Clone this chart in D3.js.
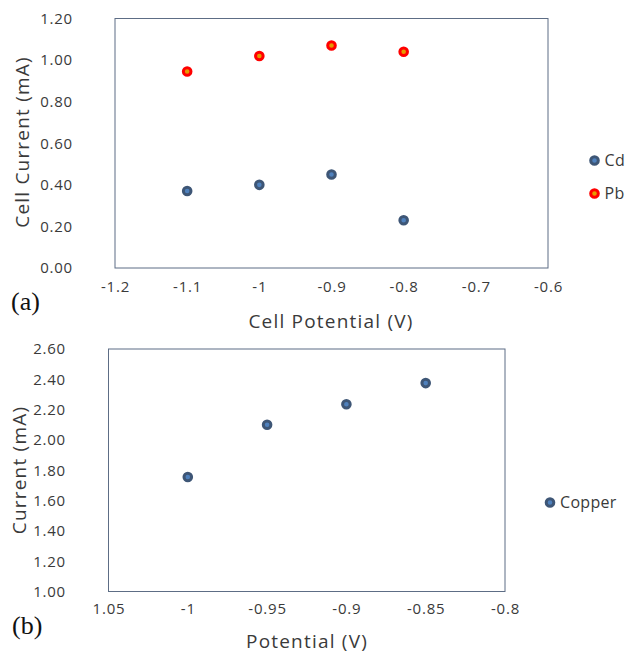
<!DOCTYPE html>
<html>
<head>
<meta charset="utf-8">
<script src="https://cdn.jsdelivr.net/npm/d3@7"></script>
<style>
  html, body { margin: 0; padding: 0; background: #fff; }
  svg { display: block; }
  text { font-family: "Open Sans", "Noto Sans", sans-serif; fill: #3a3a3a; }
  text.tag { font-family: "Liberation Serif", "DejaVu Serif", serif; fill: #111; }
</style>
</head>
<body>
<svg id="chart" width="628" height="654"></svg>
<script>
// Panel (a): cell current vs. cell potential for Cd and Pb
const potentialA = [-1.1, -1.0, -0.9, -0.8];
const cdCurrent = [0.37, 0.40, 0.45, 0.23];
const pbCurrent = [0.945, 1.02, 1.07, 1.04];
const xTicksA = [-1.2, -1.1, -1.0, -0.9, -0.8, -0.7, -0.6];
const xTickLabelsA = ["-1.2", "-1.1", "-1", "-0.9", "-0.8", "-0.7", "-0.6"];
const yTicksA = [0, 0.2, 0.4, 0.6, 0.8, 1.0, 1.2];

// Panel (b): current vs. potential for Copper
const potentialB = [-1.0, -0.95, -0.9, -0.85];
const copperCurrent = [1.755, 2.10, 2.235, 2.375];
const xTicksB = [-1.05, -1.0, -0.95, -0.9, -0.85, -0.8];
const xTickLabelsB = ["1.05", "-1", "-0.95", "-0.9", "-0.85", "-0.8"];
const yTicksB = [1.0, 1.2, 1.4, 1.6, 1.8, 2.0, 2.2, 2.4, 2.6];

const blue = { fill: "#4f81bd", stroke: "#3e5676" };
const red = { fill: "#e69a00", stroke: "#ff0000" };

const svg = d3.select("#chart");

function panel(cfg) {
  const g = svg.append("g");
  const x = d3.scaleLinear().domain(cfg.xDomain).range([cfg.left, cfg.right]);
  const y = d3.scaleLinear().domain(cfg.yDomain).range([cfg.bottom, cfg.top]);

  // plot frame
  g.append("rect")
    .attr("x", cfg.left).attr("y", cfg.top)
    .attr("width", cfg.right - cfg.left).attr("height", cfg.bottom - cfg.top)
    .attr("fill", "none").attr("stroke", "#5d6d85").attr("stroke-width", 1);

  // y axis labels
  const yAxis = d3.axisLeft(y).tickValues(cfg.yTicks).tickFormat(d3.format(".2f")).tickSize(0).tickPadding(0);
  const ya = g.append("g").attr("transform", `translate(${cfg.yLabelX},0)`).call(yAxis);
  ya.select(".domain").remove();
  ya.selectAll("text").attr("font-size", 15).attr("fill", "#3a3a3a")
    .attr("letter-spacing", 0.8);

  // x axis labels
  const xAxis = d3.axisBottom(x).tickValues(cfg.xTicks)
    .tickFormat((d, i) => cfg.xTickLabels[i]).tickSize(0).tickPadding(0);
  const xa = g.append("g").attr("transform", `translate(0,${cfg.xLabelY})`).call(xAxis);
  xa.select(".domain").remove();
  xa.selectAll("text").attr("font-size", 15).attr("fill", "#3a3a3a")
    .attr("letter-spacing", 0.8);

  // axis titles
  g.append("text").attr("x", cfg.xTitleX).attr("y", cfg.xTitleY)
    .attr("text-anchor", "middle").attr("font-size", 19)
    .attr("letter-spacing", 1.2).text(cfg.xTitle);
  g.append("text")
    .attr("transform", `translate(${cfg.yTitleX},${cfg.yTitleY}) rotate(-90)`)
    .attr("text-anchor", "middle").attr("font-size", 19)
    .attr("letter-spacing", 1.2).text(cfg.yTitle);

  // series markers
  cfg.series.forEach(s => {
    g.append("g").selectAll("circle").data(s.values).join("circle")
      .attr("cx", (d, i) => x(s.xs[i])).attr("cy", d => y(d))
      .attr("r", 3.8).attr("fill", s.color.fill)
      .attr("stroke", s.color.stroke).attr("stroke-width", 3);
  });

  // legend
  cfg.series.forEach((s, i) => {
    const ly = cfg.legendY + i * cfg.legendStep;
    g.append("circle").attr("cx", cfg.legendX).attr("cy", ly)
      .attr("r", 3.8).attr("fill", s.color.fill)
      .attr("stroke", s.color.stroke).attr("stroke-width", 3);
    g.append("text").attr("x", cfg.legendX + 10).attr("y", ly)
      .attr("dy", "0.35em").attr("font-size", 16)
      .attr("letter-spacing", 0.3).text(s.name);
  });

  // panel tag
  g.append("text").attr("class", "tag").attr("x", cfg.tagX).attr("y", cfg.tagY)
    .attr("font-size", 26).text(cfg.tag);
}

panel({
  left: 115, right: 548, top: 18.5, bottom: 268,
  xDomain: [-1.2, -0.6], yDomain: [0, 1.2],
  xTicks: xTicksA, xTickLabels: xTickLabelsA, yTicks: yTicksA,
  yLabelX: 73, xLabelY: 281,
  xTitle: "Cell Potential (V)", xTitleX: 331, xTitleY: 328,
  yTitle: "Cell Current (mA)", yTitleX: 29, yTitleY: 142,
  series: [
    { name: "Cd", xs: potentialA, values: cdCurrent, color: blue },
    { name: "Pb", xs: potentialA, values: pbCurrent, color: red }
  ],
  legendX: 594.5, legendY: 160.5, legendStep: 33,
  tag: "(a)", tagX: 11, tagY: 310
});

panel({
  left: 108.5, right: 505, top: 349, bottom: 591.5,
  xDomain: [-1.05, -0.8], yDomain: [1.0, 2.6],
  xTicks: xTicksB, xTickLabels: xTickLabelsB, yTicks: yTicksB,
  yLabelX: 66, xLabelY: 603,
  xTitle: "Potential (V)", xTitleX: 307, xTitleY: 648,
  yTitle: "Current (mA)", yTitleX: 26, yTitleY: 470,
  series: [
    { name: "Copper", xs: potentialB, values: copperCurrent, color: blue }
  ],
  legendX: 550, legendY: 502.5, legendStep: 30,
  tag: "(b)", tagX: 12, tagY: 634
});
</script>
</body>
</html>
